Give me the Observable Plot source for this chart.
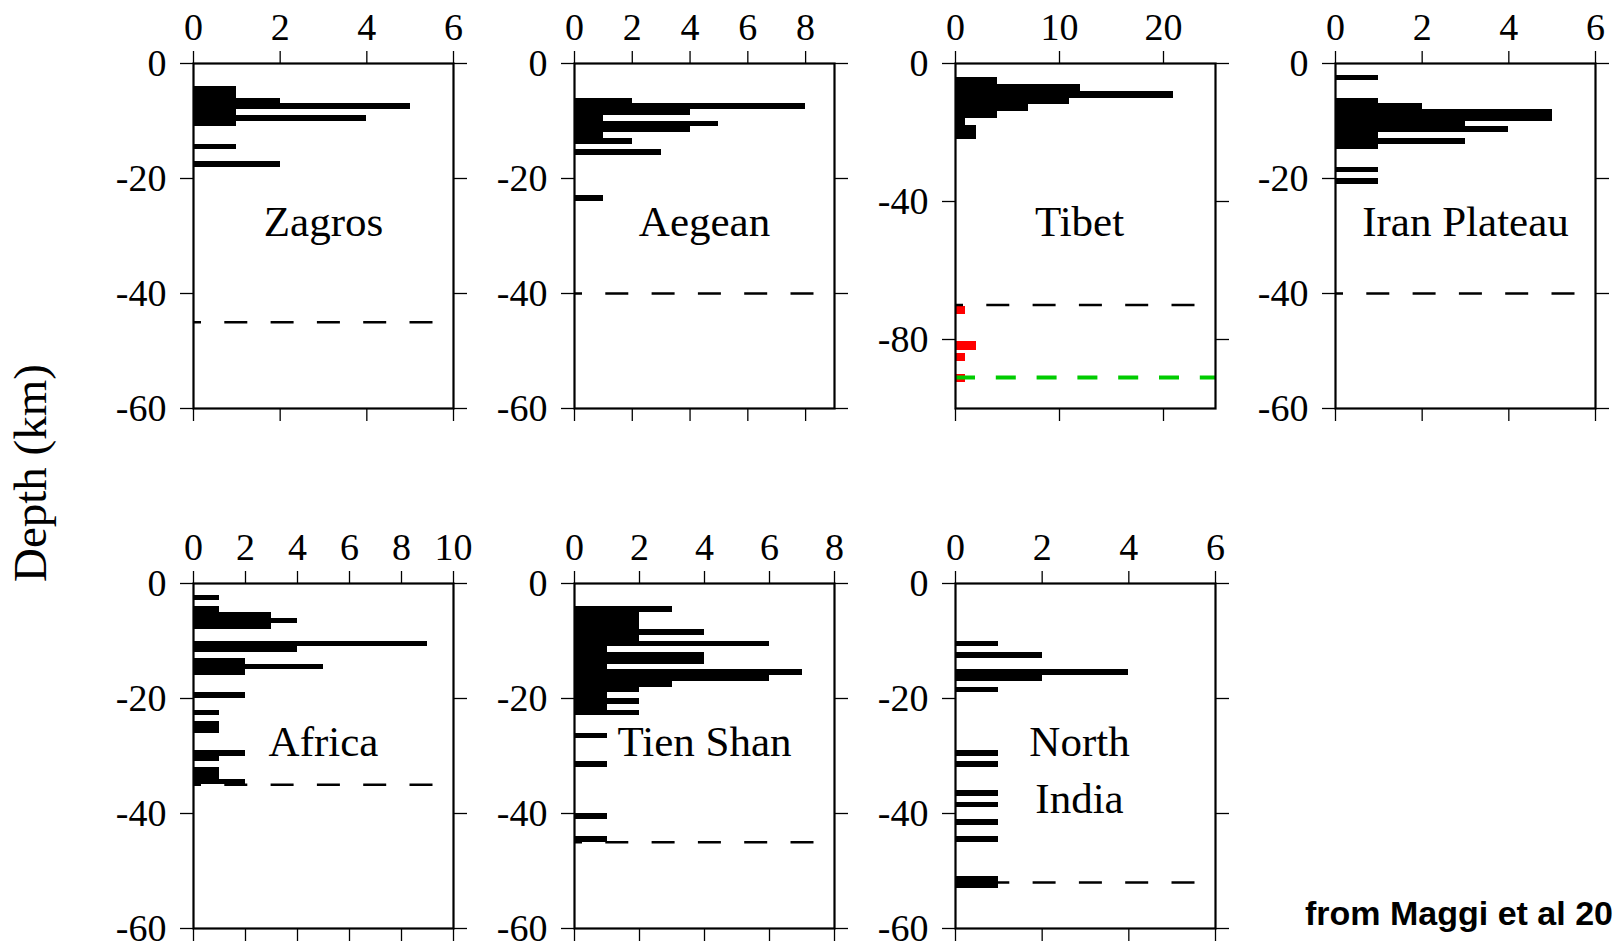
<!DOCTYPE html>
<html><head><meta charset="utf-8">
<script src="https://cdn.jsdelivr.net/npm/d3@7"></script>
<script src="https://cdn.jsdelivr.net/npm/@observablehq/plot@0.6"></script>
<style>
html,body{margin:0;padding:0;background:#fff;overflow:hidden;}
#root{position:relative;width:1613px;height:947px;overflow:hidden;background:#fff;}
.panel{position:absolute;}
.panel svg{display:block;max-width:none !important;}
#ylabel{position:absolute;left:30px;top:473px;font-family:"Liberation Serif";font-size:47px;line-height:1;white-space:nowrap;transform:translate(-50%,-50%) rotate(-90deg);color:#000;}
#caption{position:absolute;left:1305px;top:896px;font-family:"Liberation Sans";font-weight:bold;font-size:34px;line-height:1;white-space:nowrap;color:#000;}
</style></head>
<body><div id="root"><div id="ylabel">Depth (km)</div><div id="caption">from Maggi et al 2000</div></div>
<script>
// ---------- data ----------
const panelNames = ["Zagros", "Aegean", "Tibet", "Iran Plateau", "Africa", "Tien Shan", "North\nIndia"];

// bin top depth (km) and event count
const zagrosDepth = [4, 5, 6, 7, 8, 9, 10, 14, 17];
const zagrosCount = [1, 1, 2, 5, 1, 4, 1, 1, 2];

const aegeanDepth = [6, 7, 8, 9, 10, 11, 12, 13, 15, 23];
const aegeanCount = [2, 8, 4, 1, 5, 4, 1, 2, 3, 1];

const tibetDepth = [4, 6, 8, 10, 12, 14, 16, 18, 20];
const tibetCount = [4, 12, 21, 11, 7, 4, 1, 2, 2];
const tibetRedTop = [70.3, 80.5, 84, 90.2];
const tibetRedBottom = [72.7, 83.1, 86.4, 92.6];
const tibetRedCount = [1, 2, 1, 1];
const tibetGreenDepth = 91;

const iranDepth = [2, 6, 7, 8, 9, 10, 11, 12, 13, 14, 18, 20];
const iranCount = [1, 1, 2, 5, 5, 3, 4, 1, 3, 1, 1, 1];

const africaDepth = [2, 4, 5, 6, 7, 10, 11, 13, 14, 15, 19, 22, 24, 25, 29, 30, 32, 33, 34];
const africaCount = [1, 1, 3, 4, 3, 9, 4, 2, 5, 2, 2, 1, 1, 1, 2, 1, 1, 1, 2];

const tienShanDepth = [4, 5, 6, 7, 8, 9, 10, 11, 12, 13, 14, 15, 16, 17, 18, 19, 20, 21, 22, 26, 31, 40, 44];
const tienShanCount = [3, 2, 2, 2, 4, 2, 6, 1, 4, 4, 1, 7, 6, 3, 2, 1, 2, 1, 2, 1, 1, 1, 1];

const northIndiaDepth = [10, 12, 15, 16, 18, 29, 31, 36, 38, 41, 44, 51, 52];
const northIndiaCount = [1, 2, 4, 2, 1, 1, 1, 1, 1, 1, 1, 1, 1];

const binWidth = [1, 1, 2, 1, 1, 1, 1];
const mohoDepth = [45, 40, 70, 40, 35, 45, 52];

const xMax = [6, 9, 25, 6, 10, 8, 6];
const xTickValues = [[0, 2, 4, 6], [0, 2, 4, 6, 8], [0, 10, 20], [0, 2, 4, 6], [0, 2, 4, 6, 8, 10], [0, 2, 4, 6, 8], [0, 2, 4, 6]];
const yMin = [-60, -60, -100, -60, -60, -60, -60];
const yTickValues = [[0, -20, -40, -60], [0, -20, -40, -60], [0, -40, -80], [0, -20, -40, -60], [0, -20, -40, -60], [0, -20, -40, -60], [0, -20, -40, -60]];

const depthLists = [zagrosDepth, aegeanDepth, tibetDepth, iranDepth, africaDepth, tienShanDepth, northIndiaDepth];
const countLists = [zagrosCount, aegeanCount, tibetCount, iranCount, africaCount, tienShanCount, northIndiaCount];

// ---------- layout ----------
const FW = 260, FH = 345;
const M = {left: 100, right: 30, top: 60, bottom: 30};
const colX = [193.3, 574.3, 955, 1335];
const rowY = [63.3, 583.3];
const titleDx = [0, 0, -6, 0];

const root = document.getElementById("root");

panelNames.forEach((name, i) => {
  const row = i < 4 ? 0 : 1;
  const col = i < 4 ? i : i - 4;
  const bw = binWidth[i];
  const bars = depthLists[i].map((d, j) => ({top: -d, bottom: -(d + bw), n: countLists[i][j]}));
  const marks = [
    Plot.rect(bars, {x1: () => 0, x2: "n", y1: "top", y2: "bottom", fill: "black", shapeRendering: "crispEdges"})
  ];
  if (name === "Tibet") {
    const red = tibetRedTop.map((t, j) => ({top: -t, bottom: -tibetRedBottom[j], n: tibetRedCount[j]}));
    marks.push(Plot.rect(red, {x1: () => 0, x2: "n", y1: "top", y2: "bottom", fill: "#ff0000", shapeRendering: "crispEdges"}));
  }
  marks.push(Plot.ruleY([-mohoDepth[i]], {stroke: "black", strokeWidth: 2.3, strokeDasharray: "23,23.3", strokeDashoffset: 15}));
  if (name === "Tibet") {
    marks.push(Plot.ruleY([-tibetGreenDepth], {stroke: "#00cc00", strokeWidth: 4, strokeDasharray: "20,20.8"}));
  }
  marks.push(
    Plot.text([name], {text: d => d, frameAnchor: "top", lineAnchor: "top", dy: 132, dx: titleDx[col], fontSize: 43, lineHeight: 1.32, fill: "black"}),
    Plot.axisX({anchor: "top", ticks: xTickValues[i], tickSize: 13, tickPadding: 11, label: null, tickFormat: d => String(d), strokeWidth: 1.3}),
    Plot.axisX({anchor: "bottom", ticks: xTickValues[i], tickSize: 13, fill: "none", label: null, strokeWidth: 1.3}),
    Plot.axisY({anchor: "left", ticks: yTickValues[i], tickSize: 13, tickPadding: 14, label: null, tickFormat: d => String(d), strokeWidth: 1.3}),
    Plot.axisY({anchor: "right", ticks: yTickValues[i], tickSize: 13, fill: "none", label: null, strokeWidth: 1.3}),
    Plot.frame({stroke: "black", strokeWidth: 2.2})
  );
  const svg = Plot.plot({
    width: M.left + FW + M.right,
    height: M.top + FH + M.bottom,
    marginLeft: M.left, marginRight: M.right, marginTop: M.top, marginBottom: M.bottom,
    x: {domain: [0, xMax[i]], axis: null},
    y: {domain: [yMin[i], 0], axis: null},
    style: {fontFamily: "Liberation Serif", fontSize: "38px", color: "black", background: "none", overflow: "visible"},
    marks
  });
  const div = document.createElement("div");
  div.className = "panel";
  div.style.left = (colX[col] - M.left) + "px";
  div.style.top = (rowY[row] - M.top) + "px";
  div.appendChild(svg);
  root.appendChild(div);
});
</script>
</body></html>
